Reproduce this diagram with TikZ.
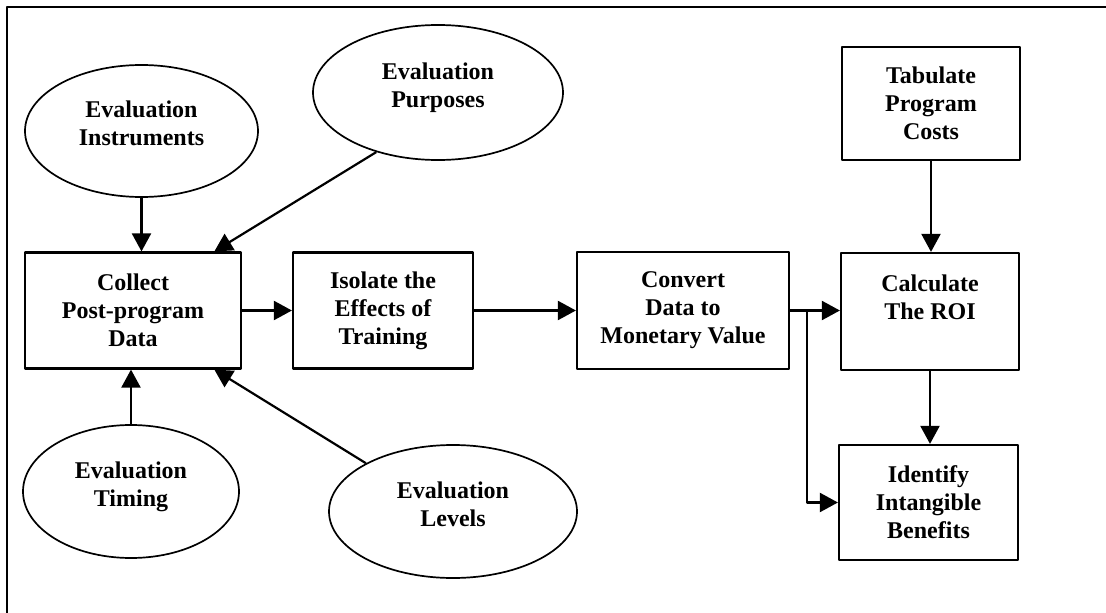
\documentclass[tikz,border=0pt]{standalone}
\usepackage{fontspec}
\setmainfont{Liberation Serif}
\usetikzlibrary{arrows.meta,shapes.geometric}
\begin{document}
\begin{tikzpicture}[x=1pt,y=-1pt,line join=round,
	font=\bfseries\fontsize{24}{28}\selectfont,
	>={Triangle[length=18pt,width=19pt]},
	box/.style={draw,line width=2.2pt,rectangle,align=center,inner sep=0pt},
	oval/.style={draw,line width=1.7pt,ellipse,align=center,inner sep=0pt,text height=45pt,text depth=16pt},
	arr/.style={->,line width=2.2pt}]
	\useasboundingbox (0,0) rectangle (1106,613);
	\draw[line width=2.6pt] (1106,7)--(7,7)--(7,613); % frame
	\node[box,minimum width=216pt,minimum height=116pt] (coll) at (133,310.5) {Collect\\Post-program\\Data};
	\node[box,minimum width=180pt,minimum height=116pt] (isol) at (383,310.5) {Isolate the\\Effects of\\Training};
	\node[box,minimum width=212pt,minimum height=117pt] (conv) at (683,310.5) {Convert\\Data to\\Monetary Value};
	\node[box,minimum width=178pt,minimum height=117pt] (calc) at (930,311.5) {Calculate\\The ROI\\\mbox{}};
	\node[box,minimum width=178pt,minimum height=113pt] (tabu) at (931,103.5) {Tabulate\\Program\\Costs};
	\node[box,minimum width=179pt,minimum height=115pt] (iden) at (928.5,502.5) {Identify\\Intangible\\Benefits};
	\node[oval,minimum width=233pt,minimum height=132pt] (inst) at (141.5,131) {Evaluation\\Instruments};
	\node[oval,minimum width=250pt,minimum height=135pt] (purp) at (438,92.5) {Evaluation\\Purposes};
	\node[oval,minimum width=216pt,minimum height=133pt] (timi) at (131,491.5) {Evaluation\\Timing};
	\node[oval,minimum width=248pt,minimum height=133pt] (leve) at (453,511.5) {Evaluation\\Levels};
	\draw[arr] (inst.south) -- (inst.south |- coll.north);
	\draw[arr] (purp.224) -- (coll.36);
	\draw[arr] (timi.north) -- (timi.north |- coll.south);
	\draw[arr] (leve.151) -- (coll.-36);
	\draw[arr] (coll.east) -- (isol.west);
	\draw[arr] (isol.east) -- (conv.west);
	\draw[arr] (conv.east) -- (conv.east -| calc.west);
	\draw[arr] (conv.east) ++(17,0) |- (iden.west);
	\draw[arr] (tabu.south) -- (tabu.south |- calc.north);
	\draw[arr] (calc.south) -- (calc.south |- iden.north);
\end{tikzpicture}
\end{document}
